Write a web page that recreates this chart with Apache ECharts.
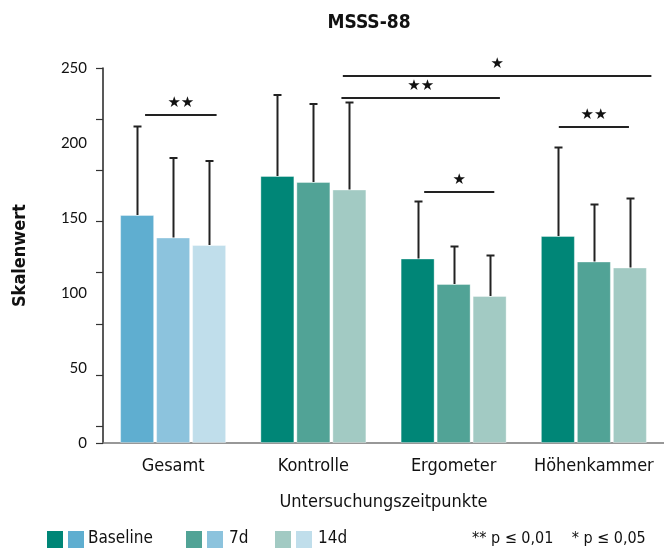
<!DOCTYPE html>
<html><head><meta charset="utf-8">
<script src="https://cdn.jsdelivr.net/npm/echarts@6/dist/echarts.min.js"></script>
<style>html,body{margin:0;padding:0;background:#fff}#c{width:664px;height:552px}</style>
</head><body><div id="c"></div>
<script>
// ---- data ----
const categories = ['Gesamt', 'Kontrolle', 'Ergometer', 'Höhenkammer'];
const seriesNames = ['Baseline', '7d', '14d'];
const meanBaseline = [152, 178, 123, 138];
const mean7d       = [137, 174, 106, 121];
const mean14d      = [132, 169, 98, 117];
const sdTopBaseline = [211, 232, 161, 197];
const sdTop7d       = [190, 226, 131, 159];
const sdTop14d      = [188, 227, 125, 163];
const yTicks = [0, 50, 100, 150, 200, 250];
// significance brackets: x in category units, y in value units
const sigFrom  = [-0.20, 1.21, 1.20, 1.79, 2.75];
const sigTo    = [0.31, 3.41, 2.33, 2.29, 3.25];
const sigLevel = [219, 245, 230, 167.5, 211];
const sigText  = ['★★', '★', '★★', '★', '★★'];

// ---- styles ----
const FONT = '"Liberation Sans Narrow","DejaVu Sans Condensed","Open Sans",sans-serif';
const tealColors = ['#008677', '#51a396', '#a2cac3'];
const blueColors = ['#5faed0', '#8cc3dd', '#c0deeb'];
const means = [meanBaseline, mean7d, mean14d];
const sdTops = [sdTopBaseline, sdTop7d, sdTop14d];
const BAR_W = 34, BAR_GAP = 2;

const chart = echarts.init(document.getElementById('c'), null, {renderer: 'canvas'});

const series = [];
means.forEach((arr, si) => {
  series.push({
    type: 'bar', name: seriesNames[si],
    barWidth: BAR_W, barGap: (BAR_GAP / BAR_W * 100) + '%',
    data: arr.map((v, ci) => ({value: v, itemStyle: {color: ci === 0 ? blueColors[si] : tealColors[si]}})),
    itemStyle: {borderColor: 'rgba(255,255,255,0.35)', borderWidth: 1},
    z: 2
  });
});
means.forEach((arr, si) => {
  series.push({
    type: 'custom', name: 'err' + si,
    data: arr.map((v, ci) => [ci, v, sdTops[si][ci]]),
    encode: {x: 0, y: [1, 2]},
    z: 3, silent: true,
    renderItem: function (params, api) {
      const off = (si - 1) * (BAR_W + BAR_GAP);
      const p0 = api.coord([api.value(0), api.value(1)]);
      const p1 = api.coord([api.value(0), api.value(2)]);
      const x = Math.round(p0[0] + off) + 0.5;
      return {type: 'group', children: [
        {type: 'line', shape: {x1: x, y1: p0[1], x2: x, y2: p1[1]}, style: {stroke: '#222', lineWidth: 2}},
        {type: 'line', shape: {x1: x - 4, y1: p1[1], x2: x + 4, y2: p1[1]}, style: {stroke: '#222', lineWidth: 2}}
      ]};
    }
  });
});
// significance brackets on hidden value x-axis
series.push({
  type: 'line', xAxisIndex: 1, data: [], silent: true,
  markLine: {
    symbol: ['none', 'none'], silent: true, animation: false,
    lineStyle: {color: '#222', width: 2, type: 'solid'},
    label: {show: true, position: 'insideMiddleTop', distance: 4, color: '#111', fontSize: 15, fontFamily: 'DejaVu Sans', formatter: p => p.data.name},
    emphasis: {disabled: true},
    data: sigFrom.map((x1, i) => [
      {coord: [x1, sigLevel[i]], name: sigText[i]},
      {coord: [sigTo[i], sigLevel[i]]}
    ])
  }
});

const legendItems = [];
const legendDefs = [[47, 88, 0], [186, 229, 1], [275, 318, 2]];
legendDefs.forEach(d => {
  legendItems.push({type: 'rect', left: d[0], top: 531, shape: {width: 16, height: 17}, style: {fill: tealColors[d[2]]}});
  legendItems.push({type: 'rect', left: d[0] + 21, top: 531, shape: {width: 16, height: 17}, style: {fill: blueColors[d[2]]}});
  legendItems.push({type: 'text', left: d[1], top: 530, style: {text: seriesNames[d[2]], font: '17px ' + FONT, fill: '#111'}});
});
legendItems.push({type: 'text', left: 472, top: 531, style: {text: '** p ≤ 0,01    * p ≤ 0,05', font: '16px ' + FONT, fill: '#111'}});

chart.setOption({
  animation: false,
  title: {text: 'MSSS-88', left: 364, top: 9, textAlign: 'center',
    textStyle: {fontFamily: FONT, fontWeight: 'bold', fontSize: 19, color: '#111'}},
  grid: {left: 103, right: 0, top: 68, bottom: 109, containLabel: false},
  xAxis: [{
    type: 'category', data: categories,
    axisLine: {lineStyle: {color: '#777', width: 1.5}},
    axisTick: {show: false},
    axisLabel: {fontFamily: FONT, fontSize: 18, color: '#111', margin: 14, interval: 0},
    name: 'Untersuchungszeitpunkte', nameLocation: 'middle', nameGap: 50,
    nameTextStyle: {fontFamily: FONT, fontSize: 18, color: '#111'}
  }, {
    type: 'value', min: -0.5, max: 3.5, show: false
  }],
  yAxis: [{
    type: 'value', min: 0, max: 250, interval: 50,
    axisLine: {show: true, onZero: false, lineStyle: {color: '#222', width: 1.5}},
    axisTick: {show: false},
    splitLine: {show: false},
    axisLabel: {fontFamily: 'Lato, "Open Sans", sans-serif', fontSize: 15, color: '#111', margin: 16,
      formatter: v => yTicks.indexOf(v) >= 0 ? String(v) : ''},
    name: 'Skalenwert', nameLocation: 'middle', nameGap: 74, nameRotate: 90,
    nameTextStyle: {fontFamily: FONT, fontWeight: 'bold', fontSize: 18, color: '#111'}
  }, {
    // tick marks of the original figure (spaced from the top of the axis)
    type: 'value', min: 0, max: 250, interval: 34.1, inverse: true, position: 'left',
    axisLine: {show: false, onZero: false},
    axisTick: {show: true, inside: false, length: 7, lineStyle: {color: '#333', width: 1.2}},
    axisLabel: {show: false}, splitLine: {show: false}
  }],
  graphic: legendItems,
  series: series
});
</script></body></html>
